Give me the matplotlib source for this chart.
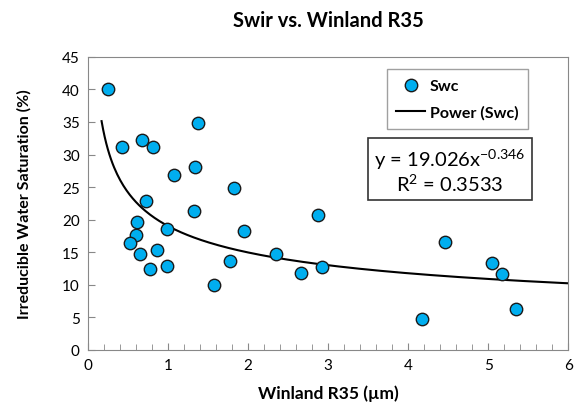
import numpy as np
import matplotlib
matplotlib.use("Agg")
from matplotlib import pyplot as plt
from matplotlib.ticker import MultipleLocator

plt.rcParams["font.family"] = ["Lato", "DejaVu Sans"]
plt.rcParams["mathtext.fontset"] = "custom"
plt.rcParams["mathtext.rm"] = "Lato"
plt.rcParams["mathtext.it"] = "Lato"

# Winland R35 (um) and irreducible water saturation (%)
r35 = [0.25, 0.42, 0.68, 0.81, 1.375, 1.07, 1.34, 1.82, 0.73, 1.33,
       2.88, 1.95, 0.61, 0.60, 0.525, 0.65, 0.86, 0.99, 0.77, 0.99,
       1.57, 1.77, 2.35, 2.66, 2.93, 4.18, 4.46, 5.05, 5.17, 5.35]
swc = [40.1, 31.1, 32.3, 31.2, 34.8, 26.9, 28.1, 24.8, 22.8, 21.3,
       20.7, 18.3, 19.7, 17.6, 16.4, 14.7, 15.3, 18.6, 12.5, 12.9,
       10.0, 13.7, 14.7, 11.8, 12.8, 4.8, 16.5, 13.3, 11.6, 6.3]

# power trend line y = a * x^b
fit_a = 19.026
fit_b = -0.346
fit_r2 = 0.3533
fit_range = (0.17, 6.0)

fig = plt.figure(figsize=(5.75, 4.1), dpi=100)
ax = fig.add_axes([0.153, 0.144, 0.835, 0.715])

xs = np.linspace(fit_range[0], fit_range[1], 300)
ax.plot(xs, fit_a * xs ** fit_b, color="black", lw=1.5, label="Power (Swc)", zorder=2)
ax.scatter(r35, swc, s=80, color="#00aeef", edgecolor="#1a1a1a", linewidth=1.0,
           label="Swc", zorder=3)

ax.set_xlim(0, 6)
ax.set_ylim(0, 45)
ax.xaxis.set_major_locator(MultipleLocator(1))
ax.xaxis.set_minor_locator(MultipleLocator(0.2))
ax.yaxis.set_major_locator(MultipleLocator(5))
ax.tick_params(which="both", direction="in", color="#888888", labelsize=11, pad=6)
ax.tick_params(which="major", length=5)
ax.tick_params(which="minor", length=4)
for sp in ax.spines.values():
    sp.set_color("#888888")

ax.set_title("Swir vs. Winland R35", fontsize=14.5, fontweight="bold", pad=22)
ax.set_xlabel("Winland R35 (µm)", fontsize=12.5, fontweight="bold", labelpad=9)
ax.set_ylabel("Irreducible Water Saturation (%)", fontsize=11.5, fontweight="bold",
              labelpad=22)

handles, labels = ax.get_legend_handles_labels()
leg = ax.legend(handles[::-1], labels[::-1], loc="upper right",
                bbox_to_anchor=(0.917, 0.959), borderaxespad=0, frameon=True,
                fancybox=False, edgecolor="#888888",
                prop={"weight": "bold", "size": 11.5},
                handlelength=1.8, handletextpad=0.3, borderpad=0.6, labelspacing=0.8)
leg.get_frame().set_linewidth(1.0)

eq = "y = %.3fx$^{%.3f}$\nR$^{2}$ = %.4f" % (fit_a, fit_b, fit_r2)
ax.text(0.754, 0.614, eq, transform=ax.transAxes, ha="center", va="center",
        fontsize=14.5, linespacing=1.1,
        bbox=dict(boxstyle="square,pad=0.3", facecolor="white", edgecolor="#333333", lw=1.2))

fig.savefig("out.png", dpi=100)
